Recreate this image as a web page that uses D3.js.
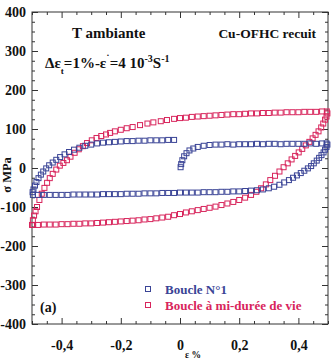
<!DOCTYPE html>
<html><head><meta charset="utf-8">
<script src="https://cdn.jsdelivr.net/npm/d3@7/dist/d3.min.js"></script>
<style>
html,body{margin:0;padding:0;background:#fff;}
svg{display:block;}
</style></head>
<body>
<svg id="chart" width="334" height="360"></svg>
<script>
// ---- Data (strain %, stress MPa) ----
const seriesNames = ["Boucle N°1", "Boucle à mi-durée de vie"];

// First cycle (blue): initial loading, plateau, unloading, compression plateau, reloading
const loop1Strain = [
  0.002,0.004,0.008,0.014,0.022,0.032,0.045,0.06,0.08,0.10,0.12,
  0.14,0.16,0.18,0.20,0.22,0.24,0.26,0.28,0.30,0.32,0.34,0.36,0.38,0.40,0.42,0.44,0.46,0.48,0.495,
  0.498,0.495,0.49,0.485,0.478,0.47,0.462,0.452,0.443,0.432,0.42,0.408,0.395,0.382,0.368,0.352,0.336,0.318,0.30,0.28,0.26,0.24,0.22,
  0.20,0.18,0.16,0.14,0.12,0.10,0.08,0.06,0.04,0.02,0.00,-0.02,-0.04,-0.06,-0.08,-0.10,-0.12,-0.14,-0.16,-0.18,-0.20,-0.22,-0.24,-0.26,-0.28,-0.30,-0.32,-0.34,-0.36,-0.38,-0.40,-0.42,-0.44,-0.46,-0.48,-0.497,
  -0.498,-0.495,-0.49,-0.485,-0.478,-0.47,-0.462,-0.452,-0.442,-0.43,-0.418,-0.405,-0.39,-0.375,-0.358,-0.34,-0.32,-0.30,-0.28,-0.26,-0.24,-0.22,-0.20,-0.18,-0.16,-0.14,-0.12,-0.10,-0.08,-0.06,-0.04,-0.02
];
const loop1Stress = [
  2,10,20,30,38,45,50,54,57,59,60,
  60,61,60,61,61,61,62,61,62,62,61,62,62,62,62,63,62,63,63,
  60,54,47,40,33,26,19,12,5,-1,-7,-13,-19,-25,-31,-37,-43,-48,-52,-55,-57,-58,-59,
  -60,-60,-61,-61,-62,-62,-62,-63,-63,-63,-63,-64,-64,-64,-65,-65,-65,-66,-66,-66,-67,-67,-67,-67,-68,-68,-68,-68,-68,-69,-69,-69,-69,-69,-69,-69,
  -62,-55,-45,-36,-26,-17,-9,-1,7,14,21,28,35,41,47,52,57,60,63,65,66,67,68,69,69,70,70,71,71,71,72,72
];

// Mid-life cycle (red): tension branch then compression branch
const loop2Strain = [
  -0.5,-0.497,-0.493,-0.488,-0.483,-0.475,-0.467,-0.458,-0.449,-0.44,-0.43,-0.418,-0.406,-0.394,-0.382,-0.37,-0.356,-0.342,-0.328,-0.314,-0.298,-0.282,-0.266,-0.25,-0.236,-0.22,-0.20,-0.18,-0.16,-0.135,-0.11,-0.09,-0.065,-0.044,-0.02,
  0.0,0.02,0.04,0.06,0.08,0.10,0.12,0.14,0.16,0.18,0.20,0.22,0.24,0.26,0.28,0.30,0.32,0.34,0.36,0.38,0.40,0.42,0.44,0.46,0.48,0.496,
  0.498,0.495,0.49,0.484,0.477,0.468,0.458,0.448,0.437,0.425,0.413,0.401,0.389,0.377,0.364,0.35,0.336,0.321,0.305,0.29,0.274,0.258,0.24,0.22,0.20,0.18,0.16,0.14,0.12,0.10,0.08,0.06,0.04,0.02,
  0.0,-0.02,-0.04,-0.06,-0.08,-0.10,-0.12,-0.14,-0.16,-0.18,-0.20,-0.22,-0.24,-0.26,-0.28,-0.30,-0.32,-0.34,-0.36,-0.38,-0.40,-0.42,-0.44,-0.46,-0.48,-0.496
];
const loop2Stress = [
  -146,-134,-122,-111,-100,-82,-66,-51,-38,-26,-15,-4,6,13,20,29,39,48,56,64,71,77,82,86,90,94,98,102,105,110,114,117,120,123,126,
  128,129,131,132,133,134,135,136,137,138,138,139,140,140,141,141,142,142,143,143,143,144,144,144,145,145,
  140,132,124,114,104,94,85,76,67,58,49,40,31,22,12,2,-9,-20,-31,-42,-52,-61,-69,-76,-82,-87,-91,-95,-99,-102,-105,-108,-111,-114,
  -118,-121,-125,-127,-129,-131,-132,-134,-135,-136,-137,-138,-139,-140,-141,-142,-142,-143,-143,-144,-144,-145,-145,-145,-146,-146
];

const xTicks = [-0.4, -0.2, 0, 0.2, 0.4];
const xTickLabels = ["-0,4", "-0,2", "0", "0,2", "0,4"];
const yTicks = [-400, -300, -200, -100, 0, 100, 200, 300, 400];
const yTickLabels = ["-400", "-300", "-200", "-100", "0", "100", "200", "300", "400"];

// ---- Drawing ----
const FONT = '"Liberation Serif", "Times New Roman", serif';
const svg = d3.select("#chart").style("font-family", FONT).style("font-weight", "bold");
const M = {left: 32, right: 328, top: 12, bottom: 324};
const x = d3.scaleLinear().domain([-0.5, 0.5]).range([M.left, M.right]);
const y = d3.scaleLinear().domain([-400, 400]).range([M.bottom, M.top]);

const blue = "#3a4496", red = "#d8255c", axisCol = "#333";

const xMinor = d3.range(-0.5, 0.5001, 0.05).map(v => +v.toFixed(3)).filter(v => !xTicks.includes(v));
const yMinor = d3.range(-400, 401, 25).filter(v => !yTicks.includes(v));

function styleAxis(g) {
  g.style("font-family", FONT).style("font-weight", "bold");
  g.select(".domain").remove();
  g.selectAll(".tick line").attr("stroke", axisCol).attr("stroke-width", 1);
}
function txt(sel) { return sel.style("font-family", FONT).style("font-weight", "bold"); }

// bottom
svg.append("g").attr("transform", `translate(0,${M.bottom})`)
  .call(d3.axisBottom(x).tickValues(xTicks).tickSize(-6).tickPadding(16)
    .tickFormat((d, i) => xTickLabels[i]))
  .call(styleAxis)
  .call(g => txt(g.selectAll("text")).attr("font-size", 14).attr("fill", "#111"));
svg.append("g").attr("transform", `translate(0,${M.bottom})`)
  .call(d3.axisBottom(x).tickValues(xMinor).tickSize(-3).tickFormat(""))
  .call(styleAxis);
// top
svg.append("g").attr("transform", `translate(0,${M.top})`)
  .call(d3.axisTop(x).tickValues(xTicks).tickSize(-6).tickFormat(""))
  .call(styleAxis);
svg.append("g").attr("transform", `translate(0,${M.top})`)
  .call(d3.axisTop(x).tickValues(xMinor).tickSize(-3).tickFormat(""))
  .call(styleAxis);
// left
svg.append("g").attr("transform", `translate(${M.left},0)`)
  .call(d3.axisLeft(y).tickValues(yTicks).tickSize(-6).tickPadding(6)
    .tickFormat((d, i) => yTickLabels[i]))
  .call(styleAxis)
  .call(g => txt(g.selectAll("text")).attr("font-size", 14).attr("fill", "#111"));
svg.append("g").attr("transform", `translate(${M.left},0)`)
  .call(d3.axisLeft(y).tickValues(yMinor).tickSize(-3).tickFormat(""))
  .call(styleAxis);
// right
svg.append("g").attr("transform", `translate(${M.right},0)`)
  .call(d3.axisRight(y).tickValues(yTicks).tickSize(-6).tickFormat(""))
  .call(styleAxis);
svg.append("g").attr("transform", `translate(${M.right},0)`)
  .call(d3.axisRight(y).tickValues(yMinor).tickSize(-3).tickFormat(""))
  .call(styleAxis);

// frame
svg.append("rect").attr("x", M.left).attr("y", M.top)
  .attr("width", M.right - M.left).attr("height", M.bottom - M.top)
  .attr("fill", "none").attr("stroke", axisCol).attr("stroke-width", 1);

// markers
const S = 5;
function drawLoop(strain, stress, col) {
  const pts = strain.map((e, i) => [e, stress[i]]);
  svg.append("g").selectAll("rect").data(pts).join("rect")
    .attr("x", d => x(d[0]) - S / 2).attr("y", d => y(d[1]) - S / 2)
    .attr("width", S).attr("height", S)
    .attr("fill", "none").attr("stroke", col).attr("stroke-width", 1);
}
drawLoop(loop2Strain, loop2Stress, red);
drawLoop(loop1Strain, loop1Stress, blue);

// annotations
txt(svg.append("text")).attr("x", 72).attr("y", 38).attr("font-size", 15).attr("fill", "#111").text("T ambiante");
const t2 = txt(svg.append("text")).attr("x", 45).attr("y", 68).attr("font-size", 15).attr("fill", "#111");
t2.append("tspan").text("Δε");
t2.append("tspan").attr("font-size", 9).attr("dy", 6).text("t");
t2.append("tspan").attr("dy", -6).text("=1%-ε");
t2.append("tspan").attr("font-size", 10).attr("dy", -6).text("˙");
t2.append("tspan").attr("dy", 6).text("=4 10");
t2.append("tspan").attr("font-size", 10).attr("dy", -6).text("-3");
t2.append("tspan").attr("dy", 6).text("S");
t2.append("tspan").attr("font-size", 10).attr("dy", -6).text("-1");

txt(svg.append("text")).attr("x", 316).attr("y", 38).attr("text-anchor", "end")
  .attr("font-size", 13.5).attr("fill", "#111").text("Cu-OFHC recuit");

txt(svg.append("text")).attr("x", 40).attr("y", 312).attr("font-size", 14).attr("fill", "#111").text("(a)");

// legend
const legendColors = [blue, red];
const legendY = [289, 305];
seriesNames.forEach((n, i) => {
  svg.append("rect").attr("x", 148 - S / 2).attr("y", legendY[i] - S / 2)
    .attr("width", S).attr("height", S).attr("fill", "none")
    .attr("stroke", legendColors[i]).attr("stroke-width", 1);
  txt(svg.append("text")).attr("x", 165).attr("y", legendY[i] + 4.5).attr("font-size", 13)
    .attr("fill", legendColors[i]).text(n);
});

// axis titles
txt(svg.append("text")).attr("transform", "translate(11,175) rotate(-90)")
  .attr("text-anchor", "middle").attr("font-size", 12.5).attr("fill", "#111").text("σ MPa");
txt(svg.append("text")).attr("x", 185).attr("y", 358).attr("text-anchor", "start")
  .attr("font-size", 9.5).attr("fill", "#111").text("ε %");
</script>
</body></html>
